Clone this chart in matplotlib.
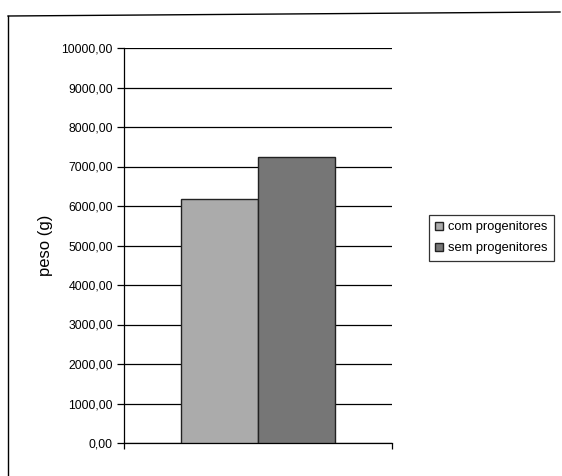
import matplotlib
matplotlib.use("Agg")
import matplotlib.pyplot as plt
from matplotlib.lines import Line2D

plt.rcParams['font.family'] = ['Liberation Sans', 'DejaVu Sans']

series = ["com progenitores", "sem progenitores"]
values = [6170.0, 7230.0]
colors = ["#ababab", "#767676"]
yticks = [0, 1000, 2000, 3000, 4000, 5000, 6000, 7000, 8000, 9000, 10000]
ylabel = "peso (g)"

W, H = 562, 476
fig = plt.figure(figsize=(W / 100, H / 100), dpi=100)
fig.patch.set_facecolor("white")

# chart border (left and top visible)
fig.add_artist(Line2D([8 / W, 8 / W], [0, 1 - 16 / H], color="black", lw=1.0, transform=fig.transFigure))
fig.add_artist(Line2D([8 / W, 560 / W], [1 - 16 / H, 1 - 12 / H], color="black", lw=1.0, transform=fig.transFigure))

left, right, bottom, top = 124, 392, 443, 48
ax = fig.add_axes([left / W, 1 - bottom / H, (right - left) / W, (bottom - top) / H])

bw = 1 / 3.5
xs = [0.5 - bw / 2, 0.5 + bw / 2]
for x, v, c, lab in zip(xs, values, colors, series):
    ax.bar(x, v, width=bw, color=c, edgecolor="#222222", linewidth=1.0, label=lab, zorder=3)

ax.set_xlim(0, 1)
ax.set_ylim(0, 10000)
ax.set_yticks(yticks)
ax.set_yticklabels([f"{t:.2f}".replace(".", ",") for t in yticks], fontsize=8.8)
ax.yaxis.grid(True, color="black", linewidth=0.9, zorder=0)
ax.set_xticks([0, 1])
ax.set_xticklabels(["", ""])
ax.tick_params(axis="x", direction="out", length=4, width=0.9)
ax.tick_params(axis="y", direction="out", length=5, width=0.9, pad=3)
for s in ["top", "right"]:
    ax.spines[s].set_visible(False)
for s in ["left", "bottom"]:
    ax.spines[s].set_linewidth(0.9)
ax.set_ylabel(ylabel, fontsize=12, labelpad=6)

leg = fig.legend(loc="upper left", bbox_to_anchor=(429 / W, 1 - 215 / H),
                 fontsize=9.3, frameon=True, fancybox=False, edgecolor="black",
                 handlelength=0.6, handleheight=0.6, handletextpad=0.4,
                 borderpad=0.5, labelspacing=0.7, borderaxespad=0)
leg.get_frame().set_linewidth(0.9)

fig.savefig("out.png", dpi=100, facecolor="white")
